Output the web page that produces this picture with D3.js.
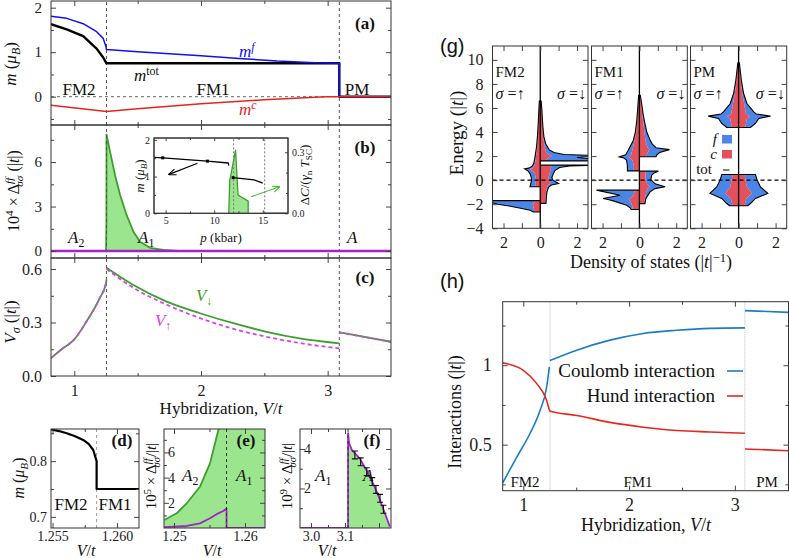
<!DOCTYPE html>
<html>
<head>
<meta charset="utf-8">
<script src="https://cdn.jsdelivr.net/npm/d3@7"></script>
<style>
  body { margin: 0; background: #fff; }
</style>
</head>
<body>
<svg id="fig" width="789" height="558"></svg>
<script>
// ---------------- data ----------------
// (a) magnetisation vs V/t
const mfV   = [0.816, 0.94, 1.07, 1.176, 1.228, 1.25, 1.254, 1.5, 2.0, 2.3, 2.6, 2.9, 3.092, 3.092, 3.5]
const mfM   = [1.81, 1.76, 1.64, 1.46, 1.31, 1.12, 1.06, 1.01, 0.92, 0.86, 0.80, 0.76, 0.75, 0, 0]
const mtotV = [0.816, 0.94, 1.07, 1.176, 1.228, 1.254, 3.092, 3.092, 3.5]
const mtotM = [1.63, 1.51, 1.36, 1.08, 0.88, 0.75, 0.75, 0, 0]
const mcV   = [0.816, 1.254, 1.5, 2.0, 2.5, 2.9, 3.0, 3.5]
const mcM   = [-0.19, -0.33, -0.27, -0.16, -0.07, -0.01, 0, 0]
const Vc    = [1.254, 3.092]

// (b) gap amplitude (x 1e4)
const gapV   = [0.816, 1.2505, 1.2535, 1.2545, 1.282, 1.322, 1.361, 1.414, 1.467, 1.519, 1.598, 1.703, 1.85, 3.5]
const gapD   = [0, 0, 1.9, 7.85, 6.7, 5.1, 3.8, 2.4, 1.3, 0.63, 0.22, 0.07, 0, 0]
const gapUpV = [0.816, 3.5]
const gapUpD = [0, 0]

// inset: experiment vs pressure
const insP1 = [3.8, 4.7, 9.3, 11.45, 11.5], insM1 = [1.52, 1.51, 1.42, 1.37, 1.3]
const insP2 = [11.95, 14.1, 15.0],          insM2 = [0.97, 0.91, 0.82]
const insP3 = [15.2, 17.6],                 insM3 = [0, 0]
const dcP   = [11.5, 11.6, 12.2, 12.45, 13.5, 13.5]
const dcC   = [0, 0.16, 0.31, 0.09, 0.06, 0]
const insLines = [12.0, 15.2]

// (c) per-spin curves
const nuV1 = [0.816, 0.9, 1.0, 1.1, 1.2, 1.25, 1.254]
const nuDn1 = [0.1, 0.15, 0.205, 0.31, 0.436, 0.52, 0.54]
const nuUp1 = [0.1, 0.15, 0.205, 0.31, 0.436, 0.52, 0.54]
const nuV2 = [1.254, 1.466, 1.729, 1.992, 2.255, 2.518, 2.78, 3.092]
const nuDn2 = [0.607, 0.51, 0.417, 0.352, 0.296, 0.248, 0.211, 0.183]
const nuUp2 = [0.6, 0.495, 0.4, 0.325, 0.265, 0.22, 0.185, 0.155]
const nuV3 = [3.092, 3.3, 3.5]
const nuDn3 = [0.245, 0.218, 0.192]
const nuUp3 = [0.245, 0.218, 0.192]

// (d) zoom on m near first transition
const dV = [1.25488, 1.2555, 1.2561, 1.2567, 1.25738, 1.2578, 1.25816, 1.25842, 1.25842, 1.26171]
const dM = [0.857, 0.854, 0.85, 0.845, 0.838, 0.831, 0.82, 0.8, 0.75, 0.75]
const dVc = 1.25842

// (e) zoom on gap near first transition (x 1e5)
const eV  = [1.24863, 1.25038, 1.25179, 1.25366, 1.25507, 1.25601, 1.25648, 1.2574, 1.2574, 1.26282]
const eDn = [0.63, 1.17, 1.96, 3.28, 5.13, 7.25, 8.3, 19, 78, 77]
const eV2 = [1.24863, 1.25179, 1.25366, 1.25507, 1.25601, 1.25694, 1.2574, 1.2574, 1.26282]
const eUp = [0.07, 0.16, 0.37, 0.77, 1.1, 1.35, 1.55, 0, 0]
const eVc = 1.2574

// (f) zoom on gap near second transition (x 1e9)
const fV  = [2.9676, 3.109, 3.109, 3.112, 3.12, 3.144, 3.164, 3.183, 3.2, 3.213, 3.232]
const fD  = [0, 0, 4.8, 4.3, 3.95, 3.5, 2.9, 2.25, 1.55, 0.95, 0.07]
const fErrV = [3.129, 3.146, 3.164, 3.18, 3.191, 3.203, 3.213]
const fErrD = [3.7, 3.35, 2.85, 2.35, 1.95, 1.5, 0.95]
const fErrE = [0.2, 0.2, 0.2, 0.2, 0.2, 0.2, 0.2]
const fVc = 3.109

// (g) density of states bands: [energy, total, c-part]
const fm2Up = [
  [[6.57,0,0],[6.57,0.05,0.05],[5.7,0.08,0.07],[4.7,0.11,0.1],[3.7,0.15,0.13],[2.8,0.2,0.17],[1.9,0.29,0.24],[1.4,0.35,0.28],[1.15,0.45,0.33],[1.0,0.62,0.42],[0.95,0.85,0.62],[0.75,0.66,0.38],[0.55,0.56,0.3],[0.3,0.5,0.26],[0,0.47,0.24],[-0.3,0.52,0.25],[-0.55,0.56,0.25],[-0.55,0,0]],
  [[-1.7,0,0],[-1.7,3.5,0.25],[-1.85,2.7,0.3],[-2.0,2.3,0.42],[-2.15,1.7,0.38],[-2.35,1.0,0.35],[-2.5,0.55,0.34],[-2.65,0.38,0.33],[-2.65,0,0]]
]
const fm2Dn = [
  [[6.57,0,0],[6.57,0.05,0.05],[5.8,0.09,0.08],[5.0,0.12,0.1],[4.3,0.15,0.13],[3.6,0.2,0.16],[3.0,0.3,0.22],[2.5,0.5,0.28],[2.3,0.75,0.32],[2.13,1.3,0.45],[2.05,3.2,0.65],[1.88,2.0,0.45],[1.72,3.2,0.35],[1.6,2.7,0.3],[1.6,0,0]],
  [[1.25,0,0],[1.25,3.5,0.4],[1.18,1.6,0.55],[1.05,1.05,0.6],[0.8,0.8,0.55],[0.5,0.7,0.5],[0.2,0.63,0.45],[0,0.7,0.45],[-0.15,0.85,0.5],[-0.28,1.0,0.6],[-0.4,0.6,0.42],[-0.6,0.45,0.36],[-1.0,0.36,0.32],[-1.5,0.33,0.3],[-1.93,0.31,0.3],[-1.93,0,0]]
]
const fm1Up = [
  [[7.05,0,0],[7.05,0.04,0.04],[6.0,0.09,0.08],[5.0,0.14,0.12],[4.0,0.22,0.18],[3.3,0.33,0.26],[2.5,0.6,0.38],[2.1,0.75,0.45],[1.94,1.09,0.6],[1.85,0.85,0.5],[1.66,0.7,0.38],[1.2,0.65,0.3],[0.77,0.65,0.3],[0.77,0,0]],
  [[-0.83,0,0],[-0.83,2.33,0.25],[-1.25,1.05,0.32],[-1.52,1.97,0.5],[-1.6,1.7,0.6],[-1.72,1.42,0.5],[-2.08,0.69,0.4],[-2.3,0.5,0.37],[-2.44,0.45,0.36],[-2.44,0,0]]
]
const fm1Dn = [
  [[7.05,0,0],[7.05,0.05,0.05],[6.1,0.15,0.12],[5.5,0.2,0.15],[4.71,0.3,0.22],[4.0,0.4,0.27],[3.33,0.58,0.33],[3.0,0.7,0.38],[2.7,0.9,0.45],[2.54,1.63,0.55],[2.3,1.1,0.45],[2.1,0.95,0.4],[1.94,0.9,0.35],[1.94,0,0]],
  [[0.75,0,0],[0.75,1.03,0.35],[0.6,0.8,0.33],[0.42,0.67,0.32],[0.05,0.62,0.33],[-0.3,0.85,0.42],[-0.55,1.4,0.55],[-0.7,0.85,0.45],[-0.97,0.58,0.38],[-1.52,0.35,0.3],[-1.95,0.3,0.28],[-1.95,0,0]]
]
const pmUp = [
  [[9.75,0,0],[9.75,0.04,0.04],[8.3,0.15,0.12],[7.2,0.27,0.2],[6.37,0.45,0.3],[5.68,0.82,0.38],[5.5,0.95,0.4],[5.32,1.64,0.62],[5.13,1.09,0.45],[4.71,0.91,0.4],[4.38,0.64,0.35],[4.38,0,0]],
  [[0.47,0,0],[0.47,0.91,0.32],[0,1.0,0.38],[-0.55,1.18,0.45],[-1.1,1.55,0.72],[-1.52,0.91,0.42],[-1.94,0.64,0.35],[-2.13,0.49,0.33],[-2.13,0,0]]
]
const pmDn = [
  [[9.75,0,0],[9.75,0.04,0.04],[8.3,0.15,0.12],[7.2,0.27,0.2],[6.37,0.45,0.3],[5.68,0.82,0.38],[5.5,0.95,0.4],[5.32,1.72,0.62],[5.13,1.09,0.45],[4.71,0.91,0.4],[4.38,0.64,0.35],[4.38,0,0]],
  [[0.47,0,0],[0.47,0.91,0.32],[0,1.0,0.38],[-0.55,1.18,0.45],[-1.1,1.58,0.72],[-1.52,0.91,0.42],[-1.94,0.64,0.35],[-2.13,0.49,0.33],[-2.13,0,0]]
]
const dosPanels = ["FM2", "FM1", "PM"]

// (h) interactions
const coulV1 = [0.805, 0.937, 1.063, 1.158, 1.22, 1.246]
const coulU1 = [0.26, 0.42, 0.57, 0.715, 0.86, 0.99]
const coulV2 = [1.252, 1.505, 1.82, 2.134, 2.45, 2.764, 3.095]
const coulU2 = [1.03, 1.095, 1.158, 1.2, 1.22, 1.232, 1.235]
const coulV3 = [3.095, 3.507]
const coulU3 = [1.344, 1.333]
const hundV1 = [0.805, 1.0, 1.127, 1.22, 1.246, 1.254, 1.505, 1.82, 2.134, 2.45, 2.764, 3.095]
const hundJ1 = [1.015, 0.968, 0.884, 0.78, 0.72, 0.71, 0.684, 0.64, 0.61, 0.589, 0.58, 0.572]
const hundV2 = [3.095, 3.507]
const hundJ2 = [0.473, 0.462]
const VcH = [1.252, 3.095]

// ---------------- helpers ----------------
const FONT = '"Liberation Serif", "DejaVu Serif", serif'
const SANS = '"Liberation Sans", Arial, sans-serif'
const GREEN = "#3b9f2c", LGREEN = "#9be58f", MAG = "#a323c9", PINK = "#d146e6"
const svg = d3.select("#fig")
const defs = svg.append("defs")
svg.append("rect").attr("width", 789).attr("height", 558).attr("fill", "#fff")

let clipN = 0
function clipped(x, y) {
  let id = "clip" + (clipN++)
  let [x0, x1] = x.range(), [y0, y1] = y.range()
  defs.append("clipPath").attr("id", id).append("rect")
    .attr("x", x0).attr("y", y1).attr("width", x1 - x0).attr("height", y0 - y1)
  return svg.append("g").attr("clip-path", "url(#" + id + ")")
}

function zip(a, b) { return a.map((v, i) => [v, b[i]]) }

function line(g, x, y, xs, ys, stroke, w, dash, curve) {
  return g.append("path")
    .attr("d", d3.line().curve(curve || d3.curveLinear).x(d => x(d[0])).y(d => y(d[1]))(zip(xs, ys)))
    .attr("fill", "none").attr("stroke", stroke).attr("stroke-width", w || 1.5)
    .attr("stroke-dasharray", dash || null).attr("stroke-linejoin", "round")
}

function fill(g, x, y, xs, ys, color, curve) {
  return g.append("path")
    .attr("d", d3.area().curve(curve || d3.curveLinear).x(d => x(d[0])).y0(y(0)).y1(d => y(d[1]))(zip(xs, ys)))
    .attr("fill", color)
}

function vline(g, x, y, v, stroke, dash) {
  let [y0, y1] = y.range()
  g.append("line").attr("x1", x(v)).attr("x2", x(v)).attr("y1", y0).attr("y2", y1)
    .attr("stroke", stroke || "#555").attr("stroke-width", 1).attr("stroke-dasharray", dash || "3,3")
}

// text with italics, super- and subscripts
function tex(x, y, parts, o) {
  o = o || {}
  let fs = o.size || 17
  let t = svg.append("text").attr("x", x).attr("y", y)
    .style("font-family", o.family || FONT).attr("font-size", fs)
    .attr("text-anchor", o.anchor || "start").attr("fill", o.color || "#111")
  if (o.rotate) t.attr("transform", "rotate(" + o.rotate + "," + x + "," + y + ")")
  if (o.weight) t.attr("font-weight", o.weight)
  let shift = 0
  parts.forEach(p => {
    let s = p[0], k = p[1] || "", dx = p[2]
    let lvl = k.startsWith("sup") ? -0.36 * fs : k.startsWith("sub") ? 0.25 * fs : 0
    let ts = t.append("tspan").text(s).attr("dy", lvl - shift)
    if (lvl !== 0) ts.attr("font-size", fs * 0.7)
    if (k.endsWith("i")) ts.attr("font-style", "italic")
    if (dx) ts.attr("dx", dx)
    shift = lvl
  })
  return t
}

// frame with inward ticks on all four sides
function frame(x, y, o) {
  let g = svg.append("g")
  let [x0, x1] = x.range(), [y0, y1] = y.range()
  let tk = o.tick || 5, mn = o.minor || 3
  let blank = () => ""
  let axis = (gen, scale, vals, size, fmt, tr, pad) => {
    let a = gen(scale).tickValues(vals || []).tickSizeInner(size).tickSizeOuter(0)
      .tickPadding(pad).tickFormat(fmt || blank)
    let s = g.append("g").attr("transform", tr).call(a)
    s.select(".domain").remove()
    s.selectAll("line").attr("stroke", "#444")
    s.selectAll("text").style("font-family", FONT).attr("font-size", o.fs || 15).attr("fill", "#222")
    return s
  }
  let bot = "translate(0," + y0 + ")", top = "translate(0," + y1 + ")"
  let lef = "translate(" + x0 + ",0)", rig = "translate(" + x1 + ",0)"
  let px = o.padX || 9, py = o.padY || 9
  axis(d3.axisBottom, x, o.xt, -tk, o.xf, bot, px)
  axis(d3.axisTop, x, o.xt, -tk, null, top, px)
  axis(d3.axisBottom, x, o.xm, -mn, null, bot, px)
  axis(d3.axisTop, x, o.xm, -mn, null, top, px)
  let ly = axis(d3.axisLeft, y, o.yt, -tk, o.yf, lef, py)
  if (o.yIn) ly.selectAll("text").attr("text-anchor", "start").attr("x", o.yIn)
  axis(d3.axisRight, y, o.yt2 || o.yt, -tk, o.yf2, rig, py)
  axis(d3.axisLeft, y, o.ym, -mn, null, lef, py)
  axis(d3.axisRight, y, o.ym2 || o.ym, -mn, null, rig, py)
  g.append("rect").attr("x", x0).attr("y", y1).attr("width", x1 - x0).attr("height", y0 - y1)
    .attr("fill", "none").attr("stroke", "#333").attr("stroke-width", 1)
  return g
}

const minus = d => (d < 0 ? "\u2212" + (-d) : "" + d)
const mono = d3.curveMonotoneX

// ---------------- panels (a)-(c) ----------------
const X  = d3.scaleLinear([0.816, 3.5], [51, 391])
const Ya = d3.scaleLinear([-0.636, 2.15], [125, 1])
const Yb = d3.scaleLinear([-0.47, 8.5], [258, 125])
const Yc = d3.scaleLinear([0, 0.662], [376, 258])

// (a)
let ga = clipped(X, Ya)
ga.append("line").attr("x1", X(0.816)).attr("x2", X(Vc[1])).attr("y1", Ya(0)).attr("y2", Ya(0))
  .attr("stroke", "#666").attr("stroke-dasharray", "3,3")
Vc.forEach(v => vline(ga, X, Ya, v))
line(ga, X, Ya, mtotV, mtotM, "#000", 2.4)
line(ga, X, Ya, mfV, mfM, "#1010f0", 1.5)
line(ga, X, Ya, mcV, mcM, "#e5241c", 1.5)
frame(X, Ya, { xt: [1, 2, 3], xm: [1.5, 2.5], yt: [0, 1, 2], ym: [-0.5, 0.5, 1.5], yf: d => d })

// (b)
let gb = clipped(X, Yb)
fill(gb, X, Yb, gapV, gapD, LGREEN)
line(gb, X, Yb, gapV, gapD, GREEN, 1.8)
Vc.forEach(v => vline(gb, X, Yb, v))
line(gb, X, Yb, gapUpV, gapUpD, MAG, 2.6)
frame(X, Yb, { xt: [1, 2, 3], xm: [1.5, 2.5], yt: [0, 3, 6], ym: [1.5, 4.5, 7.5], yf: d => d })

// (c)
let gc = clipped(X, Yc)
Vc.forEach(v => vline(gc, X, Yc, v))
line(gc, X, Yc, nuV1, nuDn1, GREEN, 1.8, null, mono)
line(gc, X, Yc, nuV2, nuDn2, GREEN, 1.8, null, mono)
line(gc, X, Yc, nuV3, nuDn3, GREEN, 1.8, null, mono)
line(gc, X, Yc, nuV1, nuUp1, PINK, 1.8, "4,3", mono)
line(gc, X, Yc, nuV2, nuUp2, PINK, 1.8, "4,3", mono)
line(gc, X, Yc, nuV3, nuUp3, PINK, 1.8, "4,3", mono)
frame(X, Yc, { xt: [1, 2, 3], xm: [1.5, 2.5], yt: [0, 0.3, 0.6], ym: [0.15, 0.45],
  xf: d => d, yf: d3.format(".1f"), padX: 9, fs: 16 })

// inset in (b)
const iX  = d3.scaleLinear([3.8, 17.6], [154, 288])
const iY  = d3.scaleLinear([0, 2.05], [213.3, 138])
const iYr = d3.scaleLinear([0, 0.37], [213.3, 138])
svg.append("rect").attr("x", 154).attr("y", 138).attr("width", 134).attr("height", 75.3).attr("fill", "#fff")
let gi = clipped(iX, iY)
fill(gi, iX, iYr, dcP, dcC, LGREEN)
line(gi, iX, iYr, dcP, dcC, GREEN, 1.3)
insLines.forEach(p => vline(gi, iX, iY, p, "#777", "2,2"))
line(gi, iX, iY, insP1, insM1, "#000", 1.3)
line(gi, iX, iY, insP2, insM2, "#000", 1.3)
line(gi, iX, iY, insP3, insM3, "#000", 1.3)
gi.selectAll("rect.pt").data(zip(insP1.slice(1, 3), insM1.slice(1, 3)).concat([[insP2[0], insM2[0]]]))
  .join("rect").attr("x", d => iX(d[0]) - 1.5).attr("y", d => iY(d[1]) - 1.5)
  .attr("width", 3).attr("height", 3).attr("fill", "#000")
// arrows pointing to each axis
function arrowHead(id, color) {
  defs.append("marker").attr("id", id).attr("viewBox", "0 0 10 10").attr("refX", 9).attr("refY", 5)
    .attr("markerWidth", 7).attr("markerHeight", 7).attr("orient", "auto")
    .append("path").attr("d", "M0,1 L10,5 L0,9").attr("fill", "none").attr("stroke", color).attr("stroke-width", 1.4)
}
arrowHead("ahK", "#000")
arrowHead("ahG", "#3fbf2f")
svg.append("line").attr("x1", iX(8.28)).attr("y1", iY(1.36)).attr("x2", iX(5.35)).attr("y2", iY(1.06))
  .attr("stroke", "#000").attr("stroke-width", 1.1).attr("marker-end", "url(#ahK)")
svg.append("line").attr("x1", iX(13.79)).attr("y1", iYr(0.081)).attr("x2", iX(16.72)).attr("y2", iYr(0.13))
  .attr("stroke", "#3fbf2f").attr("stroke-width", 1.1).attr("marker-end", "url(#ahG)")
frame(iX, iY, { xt: [5, 10, 15], xm: [7.5, 12.5], yt: [0, 1, 2], yt2: [], ym: [0.5, 1.5], ym2: [],
  xf: d => d, yf: d => d, fs: 10, tick: 3, minor: 2, padX: 4, padY: 4 })
frame(iX, iYr, { yt: [], yt2: [0, 0.3], ym: [], ym2: [0.1, 0.2], yf2: d3.format(".1f"), fs: 10, tick: 3, minor: 2, padY: 4 })

// labels (a)-(c)
tex(16, 64, [["m", "i"], [" ("], ["\u03bc", "i"], ["B", "subi"], [")"]], { rotate: -90, anchor: "middle" })
tex(19, 191, [["10"], ["4", "sup"], [" \u00d7 \u0394"], ["ff", "supi"], ["\u03c3\u03c3", "subi", -9], [" (|"], ["t", "i"], ["|)"]], { rotate: -90, anchor: "middle", size: 16 })
tex(16, 322, [["V", "i"], ["\u03c3", "subi"], [" (|"], ["t", "i"], ["|)"]], { rotate: -90, anchor: "middle" })
tex(221, 414, [["Hybridization, "], ["V", "i"], ["/"], ["t", "i"]], { anchor: "middle" })
tex(365, 29, [["(a)"]], { anchor: "middle", weight: "bold" })
tex(365, 153, [["(b)"]], { anchor: "middle", weight: "bold" })
tex(365, 283, [["(c)"]], { anchor: "middle", weight: "bold" })
tex(79, 95, [["FM2"]], { anchor: "middle" })
tex(213, 95, [["FM1"]], { anchor: "middle" })
tex(357, 95, [["PM"]], { anchor: "middle" })
tex(134, 81, [["m", "i"], ["tot", "sup"]])
tex(239, 57, [["m", "i"], ["f", "supi"]], { color: "#1010f0" })
tex(239, 115, [["m", "i"], ["c", "supi"]], { color: "#e5241c" })
tex(68, 243, [["A", "i"], ["2", "sub"]])
tex(138, 243, [["A", "i"], ["1", "sub"]])
tex(347, 243, [["A", "i"]])
tex(196, 301, [["V", "i"], ["\u2193", "sub"]], { color: GREEN })
tex(155, 326, [["V", "i"], ["\u2191", "sub"]], { color: PINK })
tex(144, 176, [["m", "i"], [" ("], ["\u03bc", "i"], ["B", "subi"], [")"]], { rotate: -90, anchor: "middle", size: 13 })
tex(221, 242, [["p", "i"], [" (kbar)"]], { anchor: "middle", size: 13 })
tex(309, 175, [["\u0394"], ["C", "i"], ["/("], ["\u03b3", "i"], ["n", "sub"], [" T", "i"], ["SC", "sub"], [")"]], { rotate: -90, anchor: "middle", size: 13 })

// ---------------- panels (d)-(f) ----------------
const Xd = d3.scaleLinear([1.25488, 1.26171], [51, 139])
const Yd = d3.scaleLinear([0.68, 0.8577], [528, 429])
let gd = clipped(Xd, Yd)
vline(gd, Xd, Yd, dVc, "#999")
line(gd, Xd, Yd, dV, dM, "#000", 2.2)
frame(Xd, Yd, { xt: [1.255, 1.26], xm: [1.2575], yt: [0.7, 0.8], ym: [0.75, 0.85],
  xf: d3.format(".3f"), yf: d3.format(".1f"), fs: 14, padY: 4, padX: 3 })

const Xe = d3.scaleLinear([1.24859, 1.26282], [164, 265])
const Ye = d3.scaleLinear([0, 7.86], [528, 429])
let ge = clipped(Xe, Ye)
fill(ge, Xe, Ye, eV, eDn, LGREEN)
line(ge, Xe, Ye, eV.slice(0, 8), eDn.slice(0, 8), GREEN, 1.8)
line(ge, Xe, Ye, eV2, eUp, MAG, 1.8)
vline(ge, Xe, Ye, eVc, "#333")
frame(Xe, Ye, { xt: [1.25, 1.26], xm: [1.255], yt: [2, 4, 6], ym: [1, 3, 5, 7],
  xf: d3.format(".2f"), yf: d => d, fs: 14, yIn: 4, padX: 3 })

const Xf = d3.scaleLinear([2.9676, 3.2353], [300, 391])
const Yf = d3.scaleLinear([0, 5.01], [528, 429])
let gf = clipped(Xf, Yf)
fill(gf, Xf, Yf, fV, fD, LGREEN)
line(gf, Xf, Yf, fV, fD, MAG, 1.8)
vline(gf, Xf, Yf, fVc, "#333")
fErrV.forEach((v, i) => {
  let lo = Yf(fErrD[i] - fErrE[i]), hi = Yf(fErrD[i] + fErrE[i]), cx = Xf(v)
  gf.append("path").attr("d", `M${cx},${lo}V${hi}M${cx - 3},${lo}H${cx + 3}M${cx - 3},${hi}H${cx + 3}`)
    .attr("stroke", "#111").attr("stroke-width", 1.1).attr("fill", "none")
})
frame(Xf, Yf, { xt: [3.0, 3.1, 3.2], xm: [3.05, 3.15], yt: [2, 4], ym: [1, 3],
  xf: d => (d < 3.15 ? d3.format(".1f")(d) : ""), yf: d => d, fs: 14, yIn: 4, padX: 3 })

tex(24, 478, [["m", "i"], [" ("], ["\u03bc", "i"], ["B", "subi"], [")"]], { rotate: -90, anchor: "middle", size: 16 })
tex(156, 476, [["10"], ["5", "sup"], [" \u00d7 \u0394"], ["ff", "supi"], ["\u03c3\u03c3", "subi", -9], ["/|"], ["t", "i"], ["|"]], { rotate: -90, anchor: "middle", size: 15 })
tex(292, 476, [["10"], ["9", "sup"], [" \u00d7 \u0394"], ["ff", "supi"], ["\u03c3\u03c3", "subi", -9], ["/|"], ["t", "i"], ["|"]], { rotate: -90, anchor: "middle", size: 15 })
tex(86, 556, [["V", "i"], ["/"], ["t", "i"]], { anchor: "middle", size: 16 })
tex(212, 556, [["V", "i"], ["/"], ["t", "i"]], { anchor: "middle", size: 16 })
tex(327, 556, [["V", "i"], ["/"], ["t", "i"]], { anchor: "middle", size: 16 })
tex(122, 446, [["(d)"]], { anchor: "middle", weight: "bold" })
tex(246, 446, [["(e)"]], { anchor: "middle", weight: "bold" })
tex(372, 446, [["(f)"]], { anchor: "middle", weight: "bold" })
tex(71, 510, [["FM2"]], { anchor: "middle" })
tex(115, 510, [["FM1"]], { anchor: "middle" })
tex(182, 481, [["A", "i"], ["2", "sub"]])
tex(236, 481, [["A", "i"], ["1", "sub"]])
tex(315, 481, [["A", "i"], ["1", "sub"]])
tex(363, 481, [["A", "i"]])

// ---------------- panel (g) ----------------
const Yg = d3.scaleLinear([-4, 11.15], [228.3, 46])
const gCols = [[492.5, 588], [591.5, 687.3], [690.5, 786.7]]
const dosData = [[fm2Up, fm2Dn], [fm1Up, fm1Dn], [pmUp, pmDn]]
const BLUE_D = "#4b86e6", RED_D = "#e4505c"

gCols.forEach((r, k) => {
  let xs = d3.scaleLinear([-2.6, 2.6], r)
  let g = clipped(xs, Yg)
  ;[-1, 1].forEach((sign, s) => {
    dosData[k][s].forEach(band => {
      g.append("path").attr("fill", BLUE_D)
        .attr("d", d3.area().y(d => Yg(d[0])).x0(d => xs(sign * d[2])).x1(d => xs(sign * d[1]))(band))
      g.append("path").attr("fill", RED_D)
        .attr("d", d3.area().y(d => Yg(d[0])).x0(xs(0)).x1(d => xs(sign * d[2]))(band))
      g.append("path").attr("fill", "none").attr("stroke", "#000").attr("stroke-width", 1.1)
        .attr("d", d3.line().y(d => Yg(d[0])).x(d => xs(sign * d[1]))(band))
    })
  })
  g.append("line").attr("x1", xs(0)).attr("x2", xs(0)).attr("y1", Yg(-4)).attr("y2", Yg(11.15))
    .attr("stroke", "#000").attr("stroke-width", 1.3)
  g.append("line").attr("x1", r[0]).attr("x2", r[1]).attr("y1", Yg(0)).attr("y2", Yg(0))
    .attr("stroke", "#000").attr("stroke-width", 1.1).attr("stroke-dasharray", "4,3")
  frame(xs, Yg, { xt: [-2, -1, 0, 1, 2], yt: [-4, -2, 0, 2, 4, 6, 8, 10],
    xf: d => (d === 0 || Math.abs(d) === 2 ? Math.abs(d) : ""),
    yf: k === 0 ? minus : null, padX: 8, padY: 9, fs: 16 })
  tex(r[0] + 3, 77, [[dosPanels[k]]], { size: 15 })
  tex(r[0] + 3, 99, [["\u03c3", "i"], [" =\u2191"]], { size: 16 })
  tex(r[1] - 2, 99, [["\u03c3", "i"], [" =\u2193"]], { size: 16, anchor: "end" })
})
// legend
svg.append("rect").attr("x", 722).attr("y", 135).attr("width", 10).attr("height", 8.5).attr("fill", BLUE_D)
svg.append("rect").attr("x", 722).attr("y", 150).attr("width", 10).attr("height", 8.5).attr("fill", RED_D)
svg.append("line").attr("x1", 723).attr("x2", 729.5).attr("y1", 170).attr("y2", 170).attr("stroke", "#000")
tex(717, 144, [["f", "i"]], { anchor: "end", size: 15 })
tex(717, 159, [["c", "i"]], { anchor: "end", size: 15 })
tex(712, 174, [["tot"]], { anchor: "end", size: 15 })
tex(463, 133, [["Energy  (|"], ["t", "i"], ["|)"]], { rotate: -90, anchor: "middle", size: 19 })
tex(651, 268, [["Density of states (|"], ["t", "i"], ["|"], ["\u22121", "sup"], [")"]], { anchor: "middle", size: 18 })
tex(440, 53, [["(g)"]], { family: SANS, size: 20 })
tex(440, 288, [["(h)"]], { family: SANS, size: 20 })

// ---------------- panel (h) ----------------
const Xh = d3.scaleLinear([0.805, 3.507], [502.7, 788.5])
const Yh = d3.scaleLinear([0.21, 1.40], [490.7, 301.7])
let gh = clipped(Xh, Yh)
VcH.forEach(v => vline(gh, Xh, Yh, v, "#bbb", "1,1"))
const BLUE_H = "#1d7cc2", RED_H = "#e8281e"
line(gh, Xh, Yh, coulV1, coulU1, BLUE_H, 1.6, null, mono)
line(gh, Xh, Yh, coulV2, coulU2, BLUE_H, 1.6, null, mono)
line(gh, Xh, Yh, coulV3, coulU3, BLUE_H, 1.6)
line(gh, Xh, Yh, hundV1, hundJ1, RED_H, 1.6, null, mono)
line(gh, Xh, Yh, hundV2, hundJ2, RED_H, 1.6)
frame(Xh, Yh, { xt: [1, 2, 3], xm: [1.5, 2.5], yt: [0.5, 1], ym: [0.25, 0.75, 1.25],
  xf: d => d, yf: d => d, padX: 8, padY: 11, fs: 18 })
tex(715, 377, [["Coulomb interaction"]], { anchor: "end", size: 19 })
tex(715, 402, [["Hund interaction"]], { anchor: "end", size: 19 })
svg.append("line").attr("x1", 727).attr("x2", 743).attr("y1", 371).attr("y2", 371).attr("stroke", BLUE_H).attr("stroke-width", 1.6)
svg.append("line").attr("x1", 727).attr("x2", 743).attr("y1", 396).attr("y2", 396).attr("stroke", RED_H).attr("stroke-width", 1.6)
tex(525, 487, [["FM2"]], { anchor: "middle", size: 15 })
tex(638, 487, [["FM1"]], { anchor: "middle", size: 15 })
tex(767, 487, [["PM"]], { anchor: "middle", size: 15 })
tex(461, 412, [["Interactions (|"], ["t", "i"], ["|)"]], { rotate: -90, anchor: "middle", size: 18 })
tex(646, 531, [["Hybridization, "], ["V", "i"], ["/"], ["t", "i"]], { anchor: "middle", size: 18 })
</script>
</body>
</html>
